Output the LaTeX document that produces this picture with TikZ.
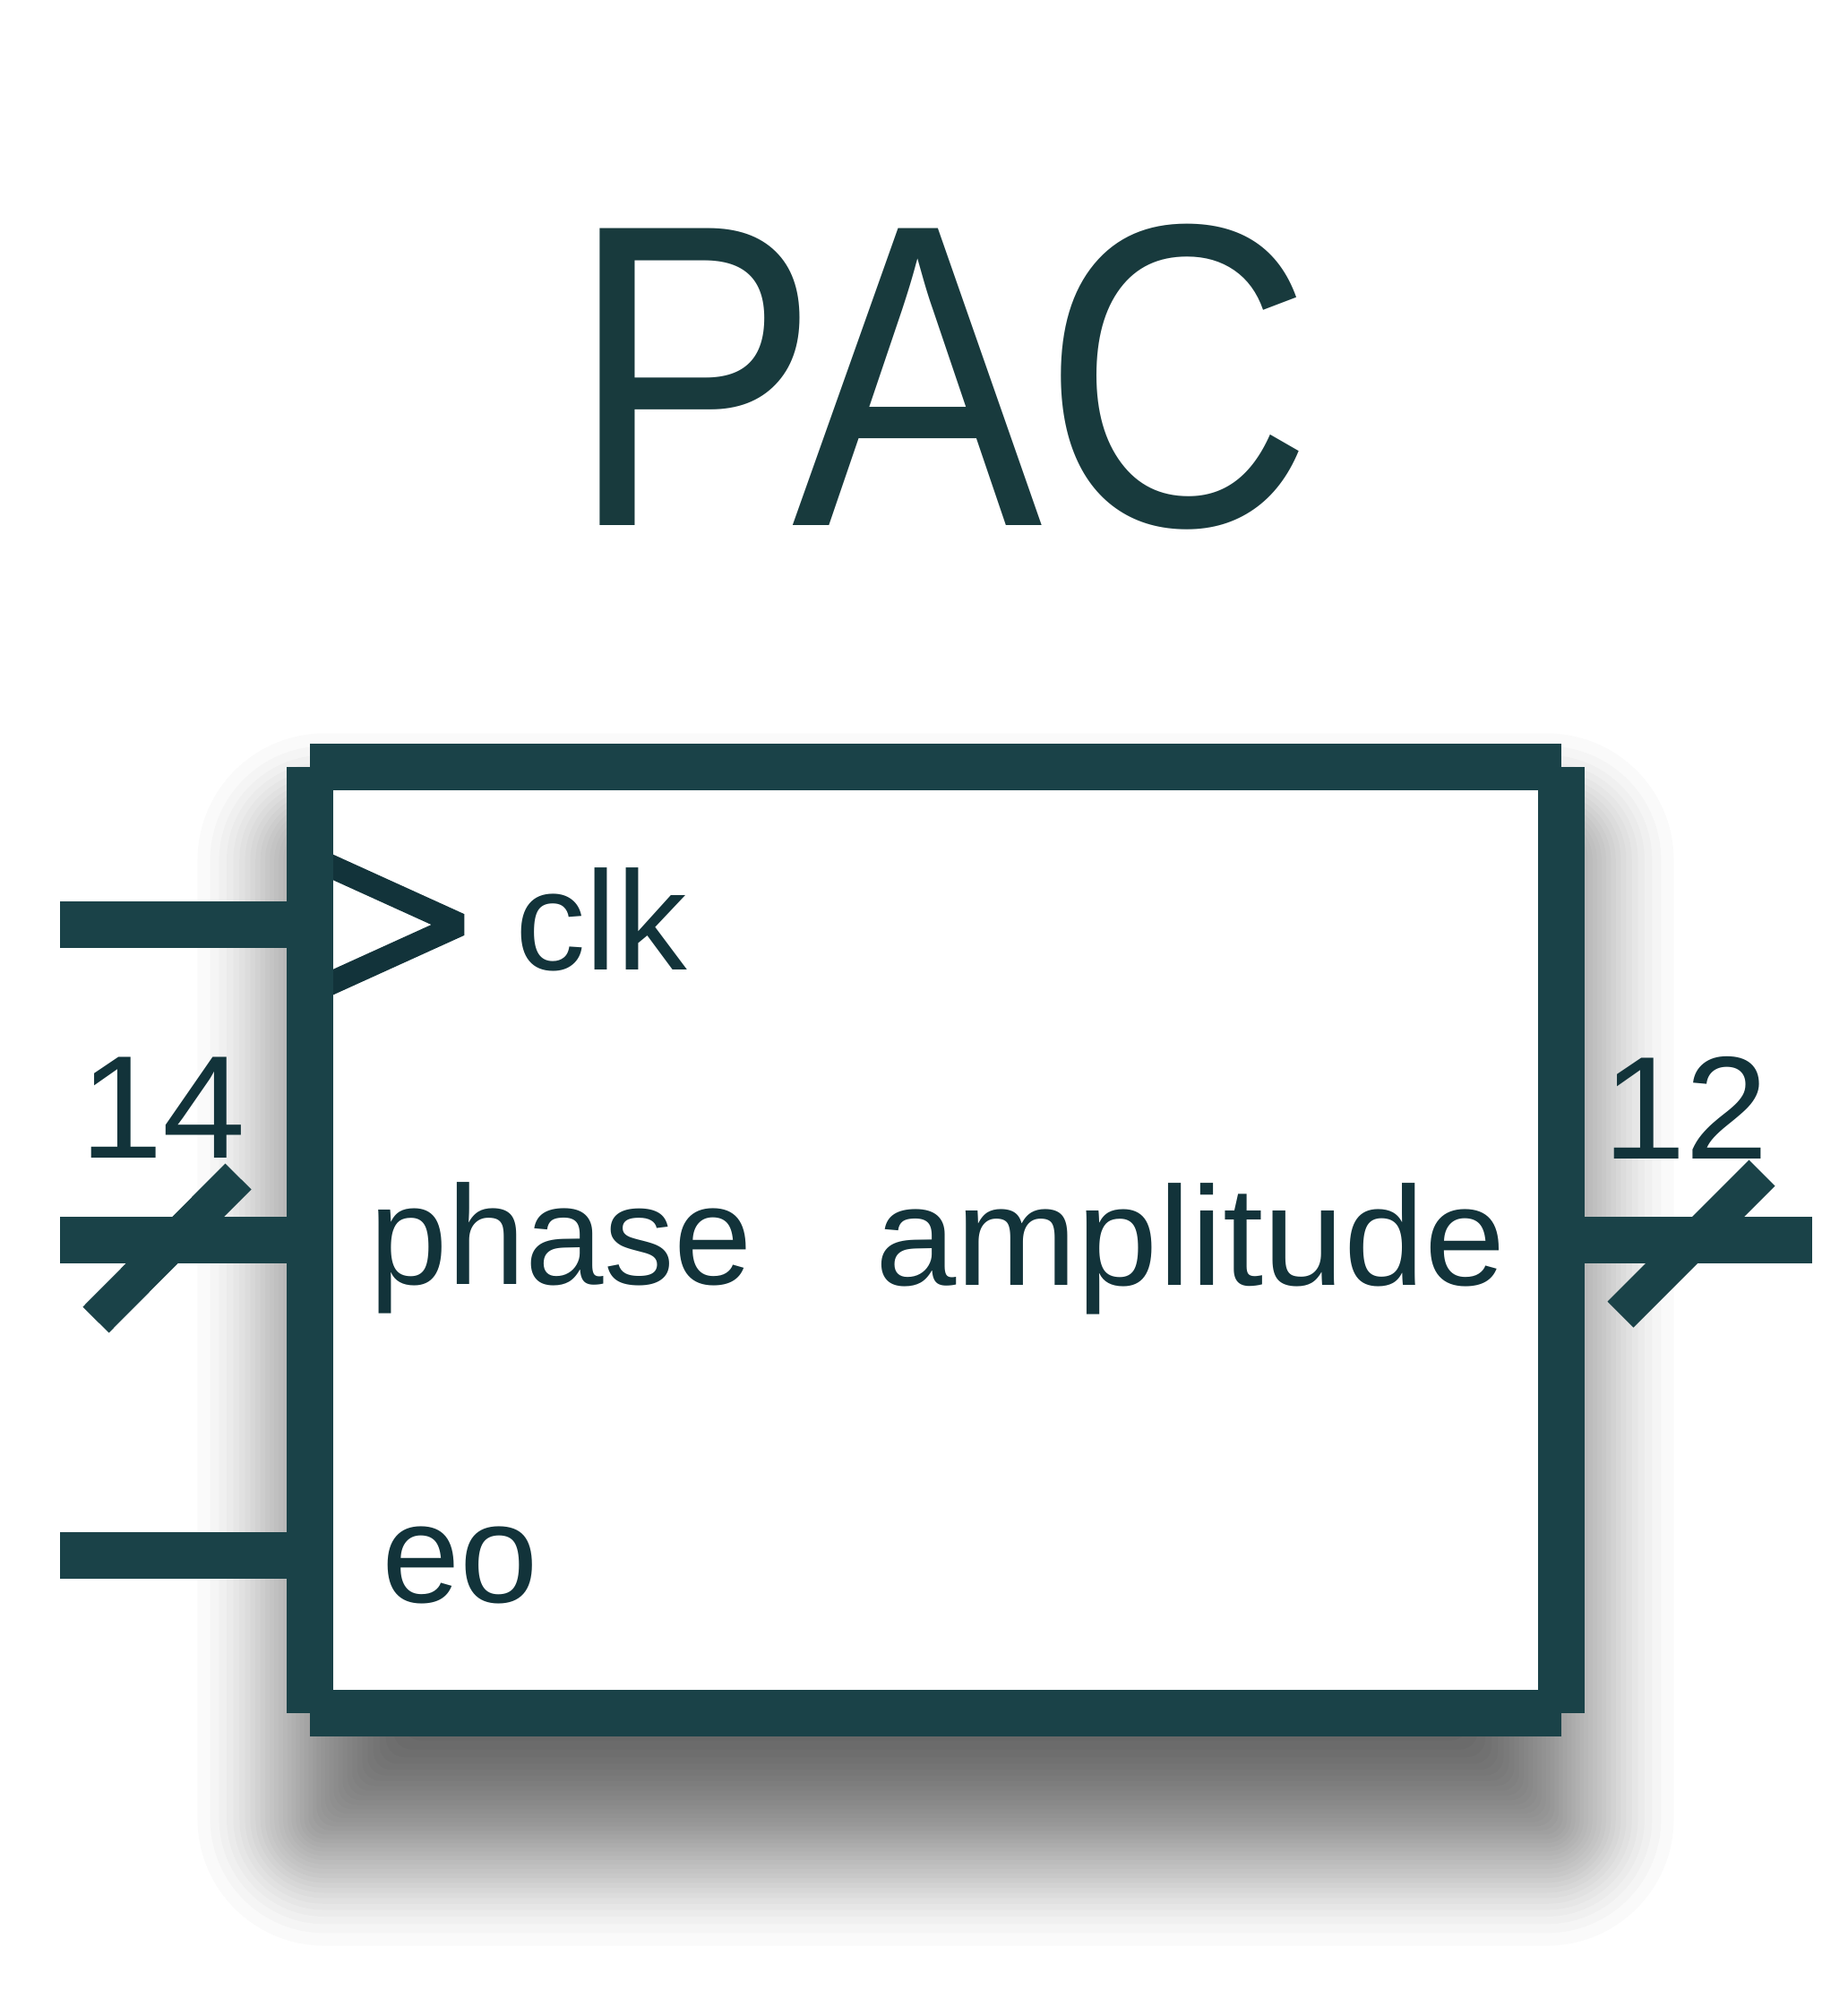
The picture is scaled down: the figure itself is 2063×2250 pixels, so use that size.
\documentclass[tikz,border=0pt]{standalone}
\usepackage{fontspec}
\setmainfont{Liberation Sans}
\definecolor{boxc}{HTML}{1A4248}
\definecolor{txtc}{HTML}{12333A}
\definecolor{titc}{HTML}{183A3D}

\begin{document}
\begin{tikzpicture}[x=0.01cm, y=-0.01cm,
    wire/.style={line width=0.52cm, draw=boxc},
    bus/.style={line width=0.41cm, draw=boxc},
    every node/.style={inner sep=0pt, outer sep=0pt},
    lbl/.style={text=txtc, font=\fontsize{44.7}{54}\selectfont},
    num/.style={text=txtc, font=\fontsize{46.5}{54}\selectfont, xscale=1.02}]
	% 0. 画布
	\useasboundingbox[fill=white] (0,0) rectangle (2063,2250);
	
	% 1. 阴影 (叠加半透明矩形模拟模糊，边缘按平滑曲线分布)
	\foreach \i in {0,...,39} {
		\pgfmathsetmacro{\u}{0.5-sin(asin(1-2*(\i+0.5)/40)/3)}
		\pgfmathsetmacro{\e}{140*(1-2*\u)}
		\pgfmathsetmacro{\rr}{max(\e,0)*0.01+0.2}
		\fill[black, fill opacity=0.02, rounded corners=\rr cm] (342-\e,940-\e) rectangle (1747+\e,2050+\e);
	}
	\fill[white] (346,856) rectangle (1743,1912);
	
	% 2. 时钟三角 (先画，被外框压住)
	\draw[txtc, line width=0.26cm, line join=bevel] (350,958) -- (513,1032) -- (350,1106);
	
	% 3. 外框 (分段画出，四角留缺口)
	\coordinate (nw) at (346,856);
	\coordinate (ne) at (1743,856);
	\coordinate (se) at (1743,1912);
	\coordinate (sw) at (346,1912);
	\draw[wire] (nw) -- (ne);
	\draw[wire] (sw) -- (se);
	\foreach \ya/\yb in {856/1208, 1208/1560, 1560/1912} {
		\draw[wire] (346,\ya) -- (346,\yb);
		\draw[wire] (1743,\ya) -- (1743,\yb);
	}
	
	% 4. 端口连线
	\coordinate (clkin) at (67,1032);
	\coordinate (clkport) at (346,1032);
	\coordinate (phin) at (67,1384);
	\coordinate (phport) at (346,1384);
	\coordinate (eoin) at (67,1736);
	\coordinate (eoport) at (346,1736);
	\coordinate (ampport) at (1743,1384);
	\coordinate (ampout) at (2023,1384);
	\draw[wire] (clkin) -- (clkport);
	\draw[wire] (phin) -- (phport);
	\draw[wire] (eoin) -- (eoport);
	\draw[wire] (ampport) -- (ampout);
	
	% 5. 总线斜杠
	\draw[bus] (107,1473) -- (266,1313);
	\draw[bus] (1809,1467) -- (1967,1309);
	
	% 6. 文字
	\node[text=titc, font=\fontsize{137}{145}\selectfont, xscale=0.87, anchor=base] (title) at (1051,586) {PAC};
	\node[lbl, anchor=base west] (clk) at (575,1082) {clk};
	\node[lbl, anchor=base west] (phase) at (412,1433) {phase};
	\node[lbl, anchor=base west] (eo) at (426,1788) {eo};
	\node[lbl, anchor=base east, xscale=1.032] (amp) at (1681,1434) {amplitude};
	\node[num, anchor=base] (w14) at (182,1292) {14};
	\node[num, anchor=base] (w12) at (1882,1293) {12};
\end{tikzpicture}
\end{document}
